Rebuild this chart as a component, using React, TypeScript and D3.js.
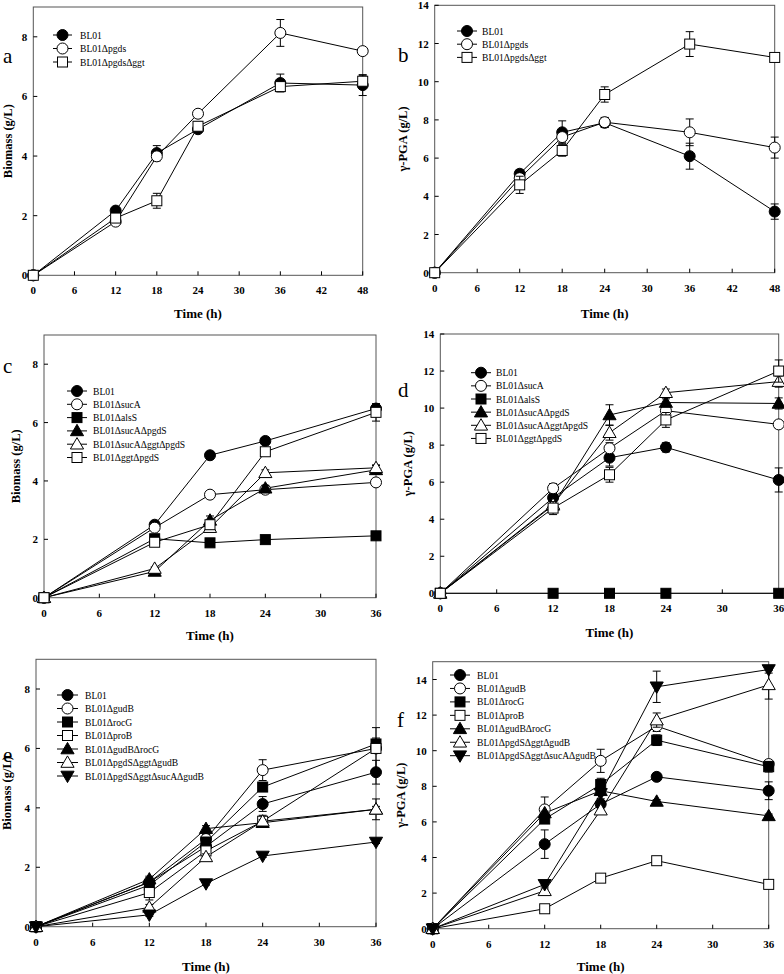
import React from "react";
import * as d3 from "d3";

// ---------- DATA ----------
const timesLong = [0, 12, 18, 24, 36, 48];
const timesShort = [0, 12, 18, 24, 36];

const namesA = ["BL01", "BL01Δpgds", "BL01ΔpgdsΔggt"];
const markersA = ["circleF", "circleO", "squareO"];
const biomassA = [
  [0, 2.17, 4.1, 4.9, 6.45, 6.38],
  [0, 1.8, 3.99, 5.42, 8.13, 7.52],
  [0, 1.92, 2.5, 5.0, 6.33, 6.51],
];
const biomassAErr = [
  [0, 0.08, 0.25, 0.1, 0.3, 0.35],
  [0, 0.08, 0.15, 0.1, 0.45, 0.1],
  [0, 0.1, 0.25, 0.15, 0.1, 0.2],
];
const pgaB = [
  [0, 5.18, 7.35, 7.85, 6.1, 3.2],
  [0, 4.95, 7.1, 7.88, 7.35, 6.55],
  [0, 4.6, 6.4, 9.33, 11.97, 11.27],
];
const pgaBErr = [
  [0, 0.2, 0.6, 0.25, 0.68, 0.4],
  [0, 0.2, 0.3, 0.25, 0.7, 0.55],
  [0, 0.45, 0.3, 0.4, 0.65, 0.1],
];

const namesC = ["BL01", "BL01ΔsucA", "BL01ΔalsS", "BL01ΔsucAΔpgdS", "BL01ΔsucAΔggtΔpgdS", "BL01ΔggtΔpgdS"];
const markersC = ["circleF", "circleO", "squareF", "triF", "triO", "squareO"];
const biomassC = [
  [0, 2.5, 4.88, 5.37, 6.48],
  [0, 2.4, 3.53, 3.7, 3.95],
  [0, 2.02, 1.88, 1.99, 2.12],
  [0, 0.9, 2.65, 3.75, 4.38],
  [0, 1.0, 2.4, 4.28, 4.45],
  [0, 1.9, 2.5, 5.0, 6.35],
];
const biomassCErr = [
  [0, 0.1, 0.1, 0.1, 0.15],
  [0, 0.1, 0.1, 0.1, 0.1],
  [0, 0.05, 0.05, 0.05, 0.05],
  [0, 0.05, 0.15, 0.1, 0.15],
  [0, 0.05, 0.1, 0.1, 0.1],
  [0, 0.1, 0.15, 0.1, 0.3],
];
const pgaD = [
  [0, 5.16, 7.32, 7.88, 6.12],
  [0, 5.67, 7.83, 9.86, 9.12],
  [0, 0, 0, 0, 0],
  [0, 4.75, 9.63, 10.3, 10.25],
  [0, 4.8, 8.67, 10.83, 11.43],
  [0, 4.6, 6.4, 9.36, 12.0],
];
const pgaDErr = [
  [0, 0.2, 0.45, 0.25, 0.65],
  [0, 0.25, 0.3, 0.2, 0.2],
  [0, 0, 0, 0, 0],
  [0, 0.2, 0.55, 0.2, 0.3],
  [0, 0.2, 0.4, 0.2, 0.3],
  [0, 0.35, 0.4, 0.4, 0.6],
];

const namesE = ["BL01", "BL01ΔgudB", "BL01ΔrocG", "BL01ΔproB", "BL01ΔgudBΔrocG", "BL01ΔpgdSΔggtΔgudB", "BL01ΔpgdSΔggtΔsucAΔgudB"];
const markersE = ["circleF", "circleO", "squareF", "squareO", "triF", "triO", "triDownF"];
const biomassE = [
  [0, 1.5, 2.7, 4.13, 5.2],
  [0, 1.5, 2.95, 5.27, 6.0],
  [0, 1.4, 2.85, 4.7, 6.15],
  [0, 1.15, 2.55, 3.55, 6.0],
  [0, 1.6, 3.3, 3.5, 3.95],
  [0, 0.65, 2.35, 3.55, 3.95],
  [0, 0.4, 1.45, 2.38, 2.85],
];
const biomassEErr = [
  [0, 0.15, 0.15, 0.25, 0.4],
  [0, 0.1, 0.15, 0.35, 0.7],
  [0, 0.1, 0.15, 0.15, 0.2],
  [0, 0.25, 0.1, 0.15, 0.15],
  [0, 0.1, 0.1, 0.1, 0.1],
  [0, 0.1, 0.1, 0.2, 0.35],
  [0, 0.05, 0.05, 0.05, 0.05],
];
const pgaF = [
  [0, 4.75, 7.0, 8.53, 7.75],
  [0, 6.7, 9.43, 11.38, 9.25],
  [0, 6.16, 8.1, 10.59, 9.1],
  [0, 1.12, 2.84, 3.82, 2.49],
  [0, 6.5, 7.75, 7.15, 6.34],
  [0, 2.13, 6.66, 11.72, 13.7],
  [0, 2.49, 7.6, 13.59, 14.56],
];
const pgaFErr = [
  [0, 0.8, 0.2, 0.2, 0.5],
  [0, 0.7, 0.65, 0.3, 0.2],
  [0, 0.2, 0.35, 0.3, 0.3],
  [0, 0.1, 0.1, 0.1, 0.1],
  [0, 0.1, 0.1, 0.1, 0.1],
  [0, 0.1, 0.2, 0.4, 0.8],
  [0, 0.15, 0.3, 0.88, 0.2],
];

const xTicksLong = [0, 6, 12, 18, 24, 30, 36, 42, 48];
const xTicksShort = [0, 6, 12, 18, 24, 30, 36];
const yTicksBiomass = [0, 2, 4, 6, 8];
const yTicksPga = [0, 2, 4, 6, 8, 10, 12, 14];

// ---------- LAYOUT ----------
const FONT = "Liberation Serif";

type Panel = {
  letter: string; letterX: number; letterY: number;
  left: number; right: number; top: number; bottom: number;
  times: number[]; xMax: number; xTicks: number[];
  yMax: number; yTicks: number[]; yLabel: string; yLabelX: number;
  xLabelY: number;
  names: string[]; markers: string[]; values: number[][]; errs: number[][];
  legX0: number; legX1: number; legTextX: number; legY: number; legStep: number;
};

const panels: Panel[] = [
  { letter: "a", letterX: 3, letterY: 63, left: 33.3, right: 362.7, top: 7, bottom: 275.3,
    times: timesLong, xMax: 48, xTicks: xTicksLong, yMax: 9, yTicks: yTicksBiomass,
    yLabel: "Biomass (g/L)", yLabelX: 7, xLabelY: 313,
    names: namesA, markers: markersA, values: biomassA, errs: biomassAErr,
    legX0: 53, legX1: 72, legTextX: 80, legY: 35, legStep: 13.5 },
  { letter: "b", letterX: 398, letterY: 62, left: 434.7, right: 774.7, top: 5.3, bottom: 272.7,
    times: timesLong, xMax: 48, xTicks: xTicksLong, yMax: 14, yTicks: yTicksPga,
    yLabel: "γ-PGA (g/L)", yLabelX: 402, xLabelY: 313,
    names: namesA, markers: markersA, values: pgaB, errs: pgaBErr,
    legX0: 457, legX1: 477, legTextX: 482, legY: 31, legStep: 13.2 },
  { letter: "c", letterX: 3, letterY: 373, left: 44, right: 376, top: 335, bottom: 597.7,
    times: timesShort, xMax: 36, xTicks: xTicksShort, yMax: 9, yTicks: yTicksBiomass,
    yLabel: "Biomass (g/L)", yLabelX: 15, xLabelY: 635,
    names: namesC, markers: markersC, values: biomassC, errs: biomassCErr,
    legX0: 67, legX1: 87, legTextX: 93, legY: 391, legStep: 13.3 },
  { letter: "d", letterX: 398, letterY: 397, left: 440.3, right: 778.7, top: 334, bottom: 593.3,
    times: timesShort, xMax: 36, xTicks: xTicksShort, yMax: 14, yTicks: yTicksPga,
    yLabel: "γ-PGA (g/L)", yLabelX: 407, xLabelY: 632,
    names: namesC, markers: markersC, values: pgaD, errs: pgaDErr,
    legX0: 471, legX1: 491, legTextX: 496, legY: 372.7, legStep: 13.15 },
  { letter: "e", letterX: 3, letterY: 762, left: 36, right: 376, top: 659.3, bottom: 926.7,
    times: timesShort, xMax: 36, xTicks: xTicksShort, yMax: 9, yTicks: yTicksBiomass,
    yLabel: "Biomass (g/L)", yLabelX: 6, xLabelY: 966,
    names: namesE, markers: markersE, values: biomassE, errs: biomassEErr,
    legX0: 57, legX1: 78, legTextX: 85, legY: 695, legStep: 13.5 },
  { letter: "f", letterX: 397, letterY: 727, left: 432.7, right: 768.7, top: 661.7, bottom: 928.7,
    times: timesShort, xMax: 36, xTicks: xTicksShort, yMax: 15, yTicks: yTicksPga,
    yLabel: "γ-PGA (g/L)", yLabelX: 400, xLabelY: 966,
    names: namesE, markers: markersE, values: pgaF, errs: pgaFErr,
    legX0: 450, legX1: 470, legTextX: 477, legY: 675, legStep: 13.45 },
];

function Marker({ kind, x, y }: { kind: string; x: number; y: number }) {
  const filled = kind.endsWith("F");
  const fill = filled ? "#000" : "#fff";
  const common = { fill, stroke: "#000", strokeWidth: 1 };
  if (kind.startsWith("circle")) return <circle cx={x} cy={y} r={5.5} {...common} />;
  if (kind.startsWith("square")) return <rect x={x - 5} y={y - 5} width={10} height={10} {...common} />;
  const sym = d3.symbol().type(d3.symbolTriangle).size(75)();
  const rot = kind.startsWith("triDown") ? 180 : 0;
  return <path d={sym as string} transform={`translate(${x},${y + (rot ? -1 : 1)}) rotate(${rot})`} {...common} />;
}

function PanelView({ p }: { p: Panel }) {
  const x = d3.scaleLinear().domain([0, p.xMax]).range([p.left, p.right]);
  const y = d3.scaleLinear().domain([0, p.yMax]).range([p.bottom, p.top]);
  const line = d3.line<[number, number]>().x((d) => x(d[0])).y((d) => y(d[1]));
  const cx = (p.left + p.right) / 2;
  const cy = (p.top + p.bottom) / 2;
  return (
    <g>
      <rect x={p.left} y={p.top} width={p.right - p.left} height={p.bottom - p.top} fill="none" stroke="#555" strokeWidth={1} />
      {p.xTicks.map((t) => (
        <g key={"xt" + t}>
          <line x1={x(t)} x2={x(t)} y1={p.bottom} y2={p.bottom - 4} stroke="#000" />
          <text x={x(t)} y={p.bottom + 19} textAnchor="middle" fontSize={11} fontWeight="bold" fontFamily={FONT}>{t}</text>
        </g>
      ))}
      {p.yTicks.map((t) => (
        <g key={"yt" + t}>
          <line x1={p.left} x2={p.left + 4} y1={y(t)} y2={y(t)} stroke="#000" />
          <text x={p.left - 6} y={y(t) + 4} textAnchor="end" fontSize={11} fontWeight="bold" fontFamily={FONT}>{t}</text>
        </g>
      ))}
      <text x={cx} y={p.xLabelY + 4.5} textAnchor="middle" fontSize={13} fontWeight="bold" fontFamily={FONT}>Time (h)</text>
      <text transform={`translate(${p.yLabelX + 4.5},${cy}) rotate(-90)`} textAnchor="middle" fontSize={12.5} fontWeight="bold" fontFamily={FONT}>{p.yLabel}</text>
      <text x={p.letterX} y={p.letterY} fontSize={21} fontFamily={FONT}>{p.letter}</text>
      {p.values.map((vals, i) => (
        <path key={"l" + i} d={line(vals.map((v, j) => [p.times[j], v]) as [number, number][]) || ""} fill="none" stroke="#000" strokeWidth={1} />
      ))}
      {p.values.map((vals, i) => (
        <g key={"s" + i}>
          {vals.map((v, j) => {
            const e = p.errs[i][j];
            if (!e) return null;
            const xx = x(p.times[j]);
            return (
              <g key={"e" + j}>
                <line x1={xx} x2={xx} y1={y(v - e)} y2={y(v + e)} stroke="#000" />
                <line x1={xx - 4} x2={xx + 4} y1={y(v + e)} y2={y(v + e)} stroke="#000" />
                <line x1={xx - 4} x2={xx + 4} y1={y(v - e)} y2={y(v - e)} stroke="#000" />
              </g>
            );
          })}
          {vals.map((v, j) => (
            <Marker key={"m" + j} kind={p.markers[i]} x={x(p.times[j])} y={y(v)} />
          ))}
        </g>
      ))}
      {p.names.map((n, i) => {
        const ly = p.legY + i * p.legStep;
        return (
          <g key={"lg" + i}>
            <line x1={p.legX0} x2={p.legX1} y1={ly} y2={ly} stroke="#000" />
            <Marker kind={p.markers[i]} x={(p.legX0 + p.legX1) / 2} y={ly} />
            <text x={p.legTextX} y={ly + 3.5} fontSize={9.6} fontFamily={FONT}>{n}</text>
          </g>
        );
      })}
    </g>
  );
}

export default function App() {
  return (
    <svg width={784} height={974} style={{ position: "absolute", left: 0, top: 0, background: "#fff" }}>
      <rect width={784} height={974} fill="#fff" />
      {panels.map((p) => (
        <PanelView key={p.letter} p={p} />
      ))}
    </svg>
  );
}
